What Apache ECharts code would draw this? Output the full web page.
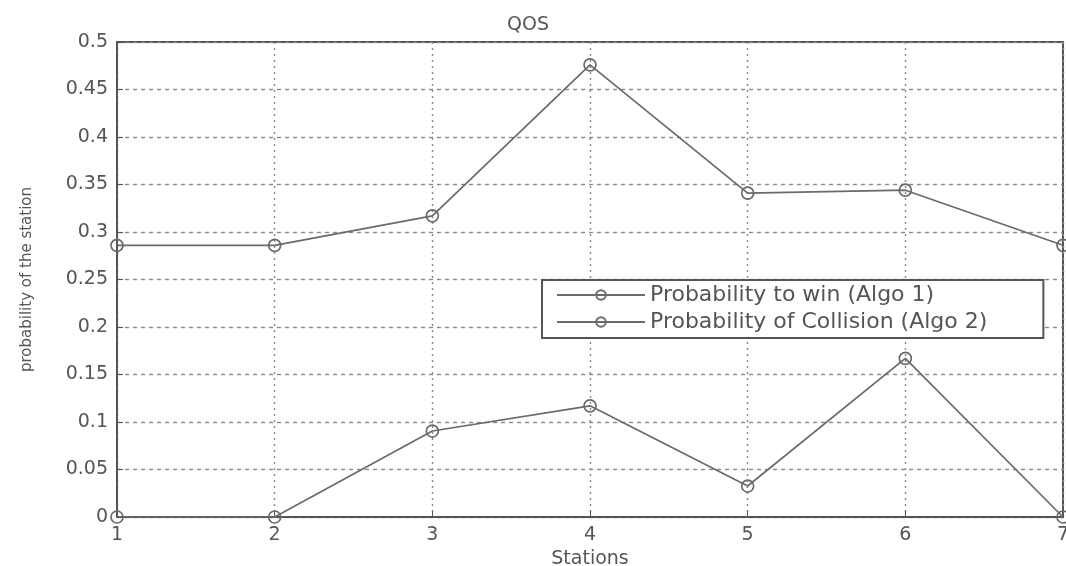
<!DOCTYPE html>
<html><head><meta charset="utf-8">
<script src="https://cdn.jsdelivr.net/npm/echarts@6/dist/echarts.min.js"></script>
<style>html,body{margin:0;padding:0;background:#fff}#c{width:1066px;height:566px}</style>
</head><body><div id="c"></div>
<script>
var stations = [1, 2, 3, 4, 5, 6, 7];
var algo1Win = [0, 0, 0.0905, 0.117, 0.0326, 0.167, 0];
var algo2Collision = [0.286, 0.286, 0.317, 0.476, 0.341, 0.344, 0.286];
var seriesNames = ['Probability to win (Algo 1)', 'Probability of Collision (Algo 2)'];

var chart = echarts.init(document.getElementById('c'));
var font = 'DejaVu Sans, Liberation Sans, sans-serif';
var grey = '#555';
function pairs(ys){ return stations.map(function(x,i){return [x, ys[i]];}); }
function mk(name, ys){
  return {name:name, type:'line', data:pairs(ys), symbol:'circle', symbolSize:12,
    lineStyle:{color:'#6a6a6a', width:1.7},
    itemStyle:{color:'rgba(255,255,255,0)', borderColor:'#6a6a6a', borderWidth:1.7},
    emphasis:{disabled:true}};
}
chart.setOption({
  animation:false,
  backgroundColor:'#fff',
  title:{text:'QOS', left:523, top:11, textAlign:'center',
    textStyle:{fontFamily:font, fontSize:19, fontWeight:'normal', color:grey}},
  grid:{left:117, right:3, top:42, bottom:49, outerBoundsMode:'none', show:true, borderColor:'#555', borderWidth:2, backgroundColor:'transparent'},
  legend:{data:seriesNames, orient:'vertical', left:542, top:280, padding:[4,56,5,14],
    itemWidth:88, itemHeight:12, itemGap:5,
    borderColor:'#555', borderWidth:2, backgroundColor:'#fff',
    textStyle:{fontFamily:font, fontSize:22, color:grey}},
  xAxis:{type:'value', min:1, max:7, interval:1, name:'Stations', nameLocation:'middle', nameGap:23,
    nameTextStyle:{fontFamily:font, fontSize:19, color:grey},
    axisLine:{show:true, lineStyle:{color:'#555', width:2}},
    axisTick:{inside:true, length:6, lineStyle:{color:'#555'}},
    axisLabel:{fontFamily:font, fontSize:19, color:grey, margin:9},
    splitLine:{show:true, lineStyle:{color:'#888', type:[2,4], width:1.4}}},
  yAxis:{type:'value', min:0, max:0.5, interval:0.05, name:'probability of the station', nameLocation:'middle', nameGap:82,
    nameTextStyle:{fontFamily:font, fontSize:15, color:grey},
    axisLine:{show:true, lineStyle:{color:'#555', width:2}},
    axisTick:{inside:true, length:6, lineStyle:{color:'#555'}},
    axisLabel:{fontFamily:font, fontSize:19, color:grey, margin:9,
      formatter:function(v){return String(parseFloat(v.toFixed(2)));}},
    splitLine:{show:true, lineStyle:{color:'#888', type:[4,4], width:1.4}}},
  series:[mk(seriesNames[0], algo1Win), mk(seriesNames[1], algo2Collision)]
});
</script></body></html>
